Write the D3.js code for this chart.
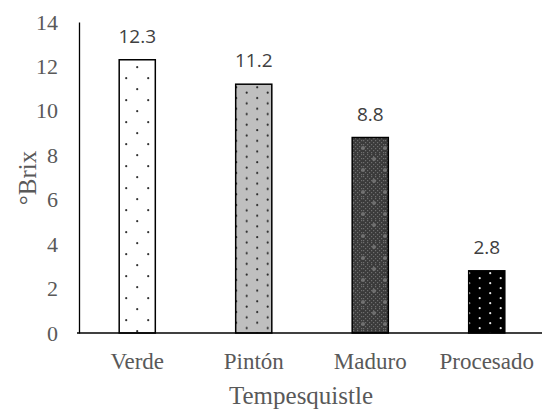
<!DOCTYPE html>
<html>
<head>
    <meta charset="utf-8">
    <script src="https://d3js.org/d3.v7.min.js"></script>
    <style>
        body { margin: 0; background: #fff; }
    </style>
</head>
<body>
    <div id="chart"></div>
    <script>
        // Data
        const categories = ["Verde", "Pintón", "Maduro", "Procesado"];
        const values = [12.3, 11.2, 8.8, 2.8];
        const yTicks = [0, 2, 4, 6, 8, 10, 12, 14];
        const patternIds = ["pVerde", "pPinton", "pMaduro", "pProcesado"];

        const W = 542, H = 411;
        const margin = { top: 22, right: -3, bottom: 78, left: 79 };
        const width = W - margin.left - margin.right,
            height = H - margin.top - margin.bottom;
        const serif = "'Liberation Serif', 'Times New Roman', serif";

        const svg = d3.select("#chart").append("svg")
            .attr("width", W).attr("height", H);

        // patterns (staggered dot grids)
        const defs = svg.append("defs");
        function dotPattern(id, w, h, ox, bg, dot, r) {
            const p = defs.append("pattern").attr("id", id)
                .attr("patternUnits", "userSpaceOnUse")
                .attr("x", ox).attr("width", w).attr("height", h);
            p.append("rect").attr("width", w).attr("height", h).attr("fill", bg);
            p.append("circle").attr("cx", 1.2).attr("cy", 1.2).attr("r", r).attr("fill", dot);
            p.append("circle").attr("cx", 1.2 + w / 2).attr("cy", 1.2 + h / 2).attr("r", r).attr("fill", dot);
            return p;
        }
        dotPattern("pVerde", 22, 22, 123, "#fff", "#333", 1.1);
        dotPattern("pPinton", 21, 10.7, 240, "#bfbfbf", "#2a2a2a", 1.1);
        dotPattern("pProcesado", 21, 10, 473, "#000", "#e6e6e6", 1.1);

        // Maduro: dark gray mesh with soft light spots
        const p3 = defs.append("pattern").attr("id", "pMaduro")
            .attr("patternUnits", "userSpaceOnUse").attr("x", 350)
            .attr("width", 22).attr("height", 22);
        p3.append("rect").attr("width", 22).attr("height", 22).attr("fill", "#3a3a3a");
        for (let i = 0; i < 11; i++) {
            for (let j = 0; j < 11; j++) {
                if ((i + j) % 2 === 0) {
                    p3.append("rect").attr("x", i * 2).attr("y", j * 2)
                        .attr("width", 1.2).attr("height", 1.2).attr("fill", "#6e6e6e");
                }
            }
        }
        p3.append("circle").attr("cx", 11).attr("cy", 5).attr("r", 2).attr("fill", "#7a7a7a").attr("opacity", 0.8);
        p3.append("circle").attr("cx", 0).attr("cy", 16).attr("r", 2).attr("fill", "#7a7a7a").attr("opacity", 0.8);
        p3.append("circle").attr("cx", 22).attr("cy", 16).attr("r", 2).attr("fill", "#7a7a7a").attr("opacity", 0.8);

        const g = svg.append("g")
            .attr("transform", `translate(${margin.left},${margin.top})`);

        const x = d3.scaleBand().domain(categories).range([0, width])
            .paddingInner(0.69).paddingOuter(0.345);
        const y = d3.scaleLinear().domain([0, 14]).range([height, 0]);

        // Y axis
        const yAxis = g.append("g")
            .call(d3.axisLeft(y).tickValues(yTicks).tickSize(0).tickPadding(21).tickFormat(d3.format("d")));
        yAxis.select(".domain").attr("stroke", "#000").attr("stroke-width", 1.3);
        yAxis.selectAll("text")
            .style("font-family", serif)
            .style("font-size", "22px").attr("fill", "#595959");

        // bars
        g.selectAll("rect.bar").data(values).enter().append("rect")
            .attr("class", "bar")
            .attr("x", (d, i) => x(categories[i]))
            .attr("y", d => y(d))
            .attr("width", x.bandwidth())
            .attr("height", d => height - y(d))
            .attr("fill", (d, i) => `url(#${patternIds[i]})`)
            .attr("stroke", "#000").attr("stroke-width", 1.5);

        // data labels
        g.selectAll("text.lbl").data(values).enter().append("text")
            .attr("class", "lbl")
            .attr("x", (d, i) => x(categories[i]) + x.bandwidth() / 2)
            .attr("y", d => y(d) - 17)
            .attr("text-anchor", "middle")
            .style("font-family", "'Open Sans', sans-serif")
            .style("font-size", "19px").attr("fill", "#404040")
            .text(d => d3.format(".1f")(d));

        // X axis
        const xAxis = g.append("g").attr("transform", `translate(0,${height})`)
            .call(d3.axisBottom(x).tickSize(0).tickPadding(20).tickSizeOuter(0));
        xAxis.select(".domain").attr("stroke", "#000").attr("stroke-width", 1.3)
            .attr("d", `M-2,0H${width}`);
        xAxis.selectAll("text")
            .style("font-family", serif)
            .style("font-size", "23px").attr("fill", "#595959");

        // axis titles
        svg.append("text")
            .attr("x", 301).attr("y", 404)
            .attr("text-anchor", "middle")
            .style("font-family", serif)
            .style("font-size", "25px").attr("fill", "#595959")
            .text("Tempesquistle");

        svg.append("text")
            .attr("transform", `translate(36,178) rotate(-90)`)
            .attr("text-anchor", "middle")
            .style("font-family", serif)
            .style("font-size", "25px").attr("fill", "#595959")
            .text("°Brix");
    </script>
</body>
</html>
